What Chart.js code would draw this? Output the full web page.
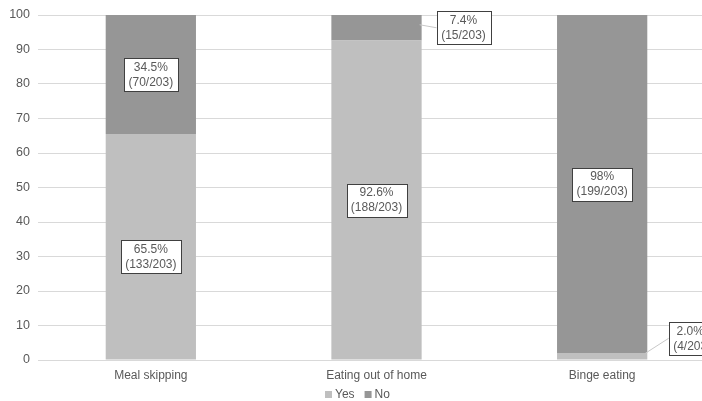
<!DOCTYPE html>
<html>
<head>
<meta charset="utf-8">
<script src="https://cdn.jsdelivr.net/npm/chart.js@4/dist/chart.umd.min.js"></script>
<style>
  html, body { margin: 0; padding: 0; background: #fff; overflow: hidden; }
  #wrap { width: 715px; height: 401px; }
</style>
</head>
<body>
<div id="wrap"><canvas id="chart"></canvas></div>
<script>
const categories = ['Meal skipping', 'Eating out of home', 'Binge eating'];
const yesValues = [65.5, 92.6, 2.0];
const noValues = [34.5, 7.4, 98];
const yesLabels = [['65.5%', '(133/203)'], ['92.6%', '(188/203)'], ['2.0%', '(4/203']];
const noLabels = [['34.5%', '(70/203)'], ['7.4%', '(15/203)'], ['98%', '(199/203)']];
const yTicks = [0, 10, 20, 30, 40, 50, 60, 70, 80, 90, 100];

const textColor = '#595959';
const font = '"Liberation Sans", Arial, sans-serif';

// label boxes shifted off the segment centre (px); line = draw a leader back to the bar
const moved = {
  '0-0': { dx: 0, dy: 10, line: false },
  '1-1': { dx: 87, dy: 0, line: true },
  '0-2': { dx: 88, dy: -18, line: true },
};

const boxLabels = {
  id: 'boxLabels',
  afterDatasetsDraw(chart) {
    const ctx = chart.ctx;
    ctx.save();
    ctx.font = '12px ' + font;
    chart.data.datasets.forEach((ds, di) => {
      const meta = chart.getDatasetMeta(di);
      meta.data.forEach((bar, i) => {
        const lines = ds.boxText[i];
        const w = Math.round(Math.max(...lines.map(t => ctx.measureText(t).width))) + 9;
        const h = 33;
        let x = bar.x;
        let y = (bar.y + bar.base) / 2;
        const mv = moved[di + '-' + i];
        if (mv) {
          const bx = x + mv.dx, by = y + mv.dy;
          if (mv.line) {
            ctx.strokeStyle = '#c8c8c8';
            ctx.lineWidth = 1;
            ctx.beginPath();
            ctx.moveTo(bar.x + bar.width / 2 - 2, y - 3);
            ctx.lineTo(bx - w / 2, by);
            ctx.stroke();
          }
          x = bx; y = by;
        }
        const left = Math.round(x - w / 2) + 0.5, top = Math.round(y - h / 2) + 0.5;
        ctx.fillStyle = '#fff';
        ctx.fillRect(left, top, w, h);
        ctx.strokeStyle = '#404040';
        ctx.lineWidth = 1;
        ctx.strokeRect(left, top, w, h);
        ctx.fillStyle = textColor;
        ctx.textAlign = 'center';
        ctx.textBaseline = 'middle';
        ctx.fillText(lines[0], x, y - 7);
        ctx.fillText(lines[1], x, y + 8);
      });
    });
    ctx.restore();
  }
};

// small legend under the axis
const bottomLegend = {
  id: 'bottomLegend',
  afterDraw(chart) {
    const ctx = chart.ctx;
    ctx.save();
    ctx.font = '12px ' + font;
    ctx.textBaseline = 'middle';
    ctx.textAlign = 'left';
    const y = 395;
    const items = chart.data.datasets.map(ds => ({ text: ds.label, color: ds.backgroundColor }));
    const gap = 10, box = 7, sp = 3;
    const total = items.reduce((s, it) => s + box + sp + ctx.measureText(it.text).width, 0) + gap * (items.length - 1);
    let x = Math.round(chart.width / 2 - total / 2);
    items.forEach(it => {
      ctx.fillStyle = it.color;
      ctx.fillRect(x, y - 4, box, box);
      x += box + sp;
      ctx.fillStyle = textColor;
      ctx.fillText(it.text, x, y);
      x += ctx.measureText(it.text).width + gap;
    });
    ctx.restore();
  }
};

new Chart(document.getElementById('chart'), {
  type: 'bar',
  data: {
    labels: categories,
    datasets: [
      { label: 'Yes', data: yesValues, boxText: yesLabels, backgroundColor: '#bfbfbf', categoryPercentage: 1, barPercentage: 0.4 },
      { label: 'No', data: noValues, boxText: noLabels, backgroundColor: '#969696', categoryPercentage: 1, barPercentage: 0.4 },
    ],
  },
  options: {
    responsive: true,
    maintainAspectRatio: false,
    animation: false,
    layout: { padding: 0 },
    plugins: {
      tooltip: { enabled: false },
      legend: { display: false },
    },
    scales: {
      x: {
        stacked: true,
        grid: { display: false },
        border: { color: '#d9d9d9' },
        afterFit(scale) { scale.height = 41; },
        ticks: { color: textColor, font: { size: 12, family: font }, padding: 0 },
      },
      y: {
        stacked: true,
        min: 0,
        max: 100,
        afterBuildTicks(scale) { scale.ticks = yTicks.map(v => ({ value: v })); },
        afterFit(scale) { scale.width = 38; scale.paddingTop = 15; },
        grid: { color: '#d9d9d9', drawTicks: false },
        border: { display: false },
        ticks: { color: textColor, font: { size: 12.5, family: font }, padding: 8 },
      },
    },
  },
  plugins: [boxLabels, bottomLegend],
});
</script>
</body>
</html>
